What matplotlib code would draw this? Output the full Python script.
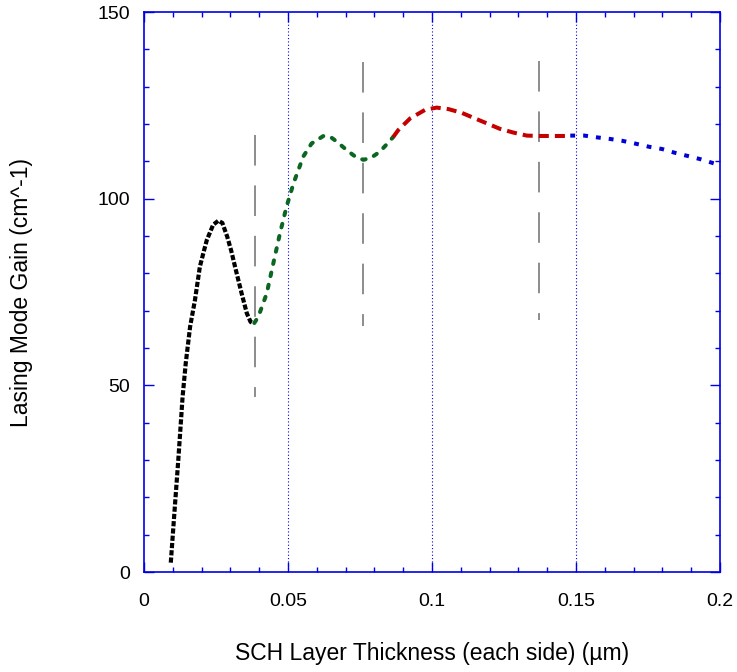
import matplotlib
matplotlib.use("Agg")
import matplotlib.pyplot as plt
from matplotlib.ticker import MultipleLocator

plt.rcParams["font.family"] = ["Liberation Sans", "DejaVu Sans"]

# modal gain vs SCH thickness, one branch per lasing mode
x_mode0 = [0.0093, 0.0100, 0.0108, 0.0119, 0.0127, 0.0134, 0.0145, 0.0160,
           0.0177, 0.0194, 0.0208, 0.0218, 0.0240, 0.0258, 0.0272, 0.0289,
           0.0303, 0.0316, 0.0339, 0.0357, 0.0370, 0.0380]
g_mode0 = [2.5, 10.0, 18.5, 30.0, 39.0, 47.0, 56.0, 65.7,
           72.9, 81.8, 86.0, 88.9, 93.0, 94.1, 93.5, 89.8,
           86.0, 81.8, 74.6, 69.3, 67.0, 66.6]

x_mode1 = [0.0383, 0.0397, 0.0426, 0.0449, 0.0472, 0.0495, 0.0519, 0.0553,
           0.0582, 0.0623, 0.0650, 0.0669, 0.0704, 0.0733, 0.0762, 0.0791,
           0.0819, 0.0843, 0.0865]
g_mode1 = [66.7, 68.4, 74.6, 82.7, 90.7, 97.9, 104.1, 111.3,
           114.8, 116.8, 116.4, 115.3, 113.0, 111.3, 110.4, 111.1,
           112.6, 114.6, 116.5]

x_mode2 = [0.0865, 0.0883, 0.0924, 0.0976, 0.1016, 0.1057, 0.1103, 0.1149,
           0.1196, 0.1236, 0.1283, 0.1329, 0.1375, 0.1432, 0.1480]
g_mode2 = [116.5, 118.4, 121.5, 123.8, 124.4, 124.0, 123.0, 121.5,
           120.0, 118.7, 117.7, 116.9, 116.8, 116.8, 116.8]

x_mode3 = [0.1480, 0.1529, 0.1575, 0.1618, 0.1661, 0.1709, 0.1754, 0.1799,
           0.1843, 0.1890, 0.1931, 0.1977, 0.2000]
g_mode3 = [116.9, 116.9, 116.4, 116.0, 115.5, 114.7, 113.9, 113.3,
           112.3, 111.4, 110.6, 109.5, 109.0]

# mode cut-off markers: thickness, lower and upper gain
cutoff_x = [0.0385, 0.0760, 0.1372]
cutoff_lo = [47.0, 66.0, 67.5]
cutoff_hi = [117.0, 136.5, 137.0]

grid_x = [0.05, 0.10, 0.15]

BLUE = "#0000e6"

fig = plt.figure(figsize=(7.37, 6.72), dpi=100)
ax = fig.add_axes([0.1954, 0.1488, 0.7816, 0.8333])

for gx in grid_x:
    ax.axvline(gx, color=BLUE, lw=0.8, ls=(0, (1, 2)), zorder=1)

for cx, lo, hi in zip(cutoff_x, cutoff_lo, cutoff_hi):
    ax.plot([cx, cx], [hi, lo], color="#6e6e6e", lw=1.1,
            ls=(0, (20, 13)), zorder=2)

ax.plot(x_mode0, g_mode0, color="black", lw=3.0, ls=(0, (1.25, 0.5)),
        dash_capstyle="butt", zorder=3)
ax.plot(x_mode1, g_mode1, color="#0a6620", lw=2.9, ls=(0, (0.9, 2.2)),
        dash_capstyle="round", zorder=3)
ax.plot(x_mode2, g_mode2, color="#c40000", lw=2.9, ls=(0, (2.5, 1.5)),
        dash_capstyle="butt", zorder=3)
ax.plot(x_mode3, g_mode3, color="#0000d8", lw=2.9, ls=(0, (1.2, 2.0)),
        dash_capstyle="butt", zorder=3)

ax.set_xlim(0, 0.2)
ax.set_ylim(0, 150)
ax.xaxis.set_major_locator(MultipleLocator(0.05))
ax.xaxis.set_minor_locator(MultipleLocator(0.01))
ax.yaxis.set_major_locator(MultipleLocator(50))
ax.yaxis.set_minor_locator(MultipleLocator(10))
ax.set_xticks([0, 0.05, 0.1, 0.15, 0.2])
ax.set_xticklabels(["0", "0.05", "0.1", "0.15", "0.2"])

for sp in ax.spines.values():
    sp.set_color(BLUE)
    sp.set_linewidth(1.2)
ax.tick_params(which="both", direction="in", top=True, right=True,
               color=BLUE, width=1.0, labelsize=14, labelcolor="black")
ax.tick_params(which="major", length=7)
ax.tick_params(which="minor", length=3.5)
ax.tick_params(axis="x", which="major", pad=15)
ax.tick_params(axis="y", which="major", pad=10)

ax.set_xlabel("SCH Layer Thickness (each side) (\u00b5m)", fontsize=16.5)
ax.set_ylabel("Lasing Mode Gain (cm^-1)", fontsize=16.5)
ax.xaxis.set_label_coords(0.5, -0.125)
ax.yaxis.set_label_coords(-0.193, 0.5)

fig.savefig("out.png", dpi=100)
